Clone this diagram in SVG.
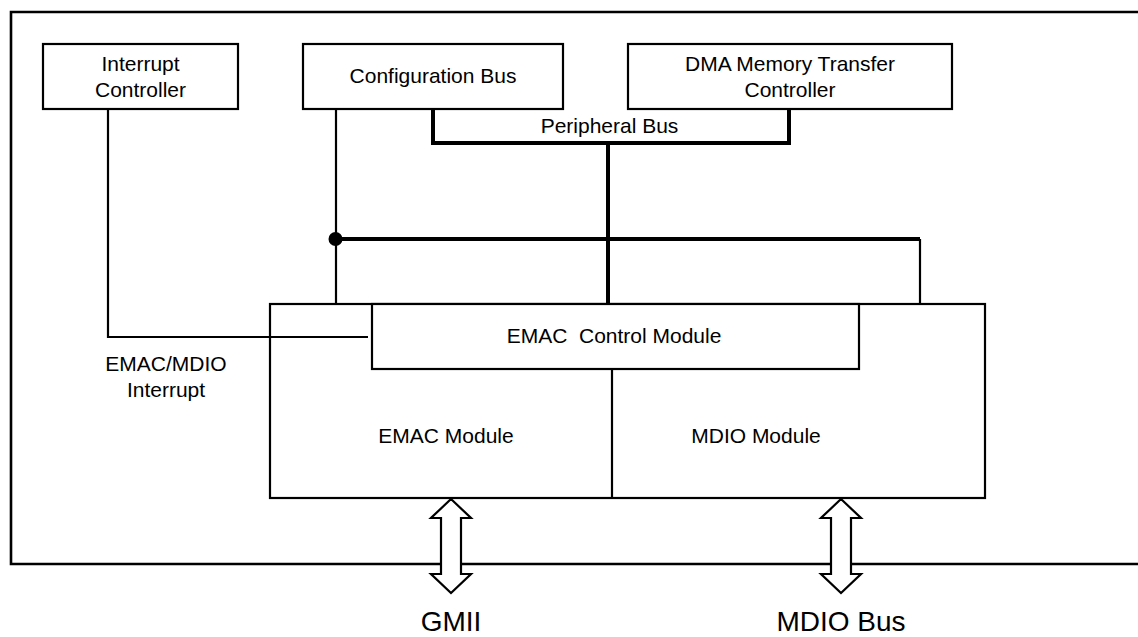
<svg xmlns="http://www.w3.org/2000/svg" width="1138" height="637" viewBox="0 0 1138 637">
<style>
.box{fill:#fff;stroke:#000;stroke-width:2.2}
.thin{fill:none;stroke:#000;stroke-width:2.2}
.thick{fill:none;stroke:#000;stroke-width:4}
.t{font-family:"Liberation Sans",Arial,sans-serif;font-size:21px;fill:#000;text-anchor:middle}
.big{font-family:"Liberation Sans",Arial,sans-serif;font-size:28px;fill:#000;text-anchor:middle}
.arr{fill:#fff;stroke:#000;stroke-width:2.2;stroke-linejoin:miter}
</style>
<rect width="1138" height="637" fill="#fff"/>
<g id="frame"><path d="M1140 12 H11 V564 H1140" fill="none" stroke="#000" stroke-width="2.6"/></g>
<g id="interrupt-controller">
<rect class="box" x="43" y="44" width="195" height="65"/>
<text class="t" x="140.5" y="71">Interrupt</text>
<text class="t" x="140.5" y="97">Controller</text>
</g>
<g id="configuration-bus">
<rect class="box" x="303" y="44" width="260" height="65"/>
<text class="t" x="433" y="83">Configuration Bus</text>
</g>
<g id="dma-controller">
<rect class="box" x="628" y="44" width="324" height="65"/>
<text class="t" x="790" y="71">DMA Memory Transfer</text>
<text class="t" x="790" y="97">Controller</text>
</g>
<g id="peripheral-bus-label"><text class="t" x="609.5" y="133">Peripheral Bus</text></g>
<g id="emac-mdio">
<rect class="box" x="270" y="304" width="715" height="194"/>
<path class="thin" d="M612 369 V498"/>
<text class="t" x="446" y="443">EMAC Module</text>
<text class="t" x="756" y="443">MDIO Module</text>
</g>
<g id="emac-control">
<rect class="box" x="372" y="304" width="487" height="65"/>
<text class="t" x="614" y="343" style="white-space:pre">EMAC  Control Module</text>
</g>
<g id="connectors">
<path class="thin" d="M108 109 V337 H368"/>
<path class="thin" d="M336 109 V304"/>
<path class="thick" d="M433 109 V143 H789 V109"/>
<path class="thick" d="M608 143 V304"/>
<path class="thick" d="M336 239 H920"/>
<path class="thin" d="M920 239 V304"/>
<circle cx="335.5" cy="239" r="7" fill="#000"/>
</g>
<g id="interrupt-label">
<text class="t" x="166" y="371">EMAC/MDIO</text>
<text class="t" x="166" y="397">Interrupt</text>
</g>
<g id="gmii-arrow">
<path class="arr" d="M451 499 L471 518 H461 V574 H471 L451 593 L431 574 H441 V518 H431 Z"/>
<text class="big" x="451" y="631">GMII</text>
</g>
<g id="mdio-arrow">
<path class="arr" d="M841 499 L861 518 H851 V574 H861 L841 593 L821 574 H831 V518 H821 Z"/>
<text class="big" x="841" y="631">MDIO Bus</text>
</g>
</svg>
